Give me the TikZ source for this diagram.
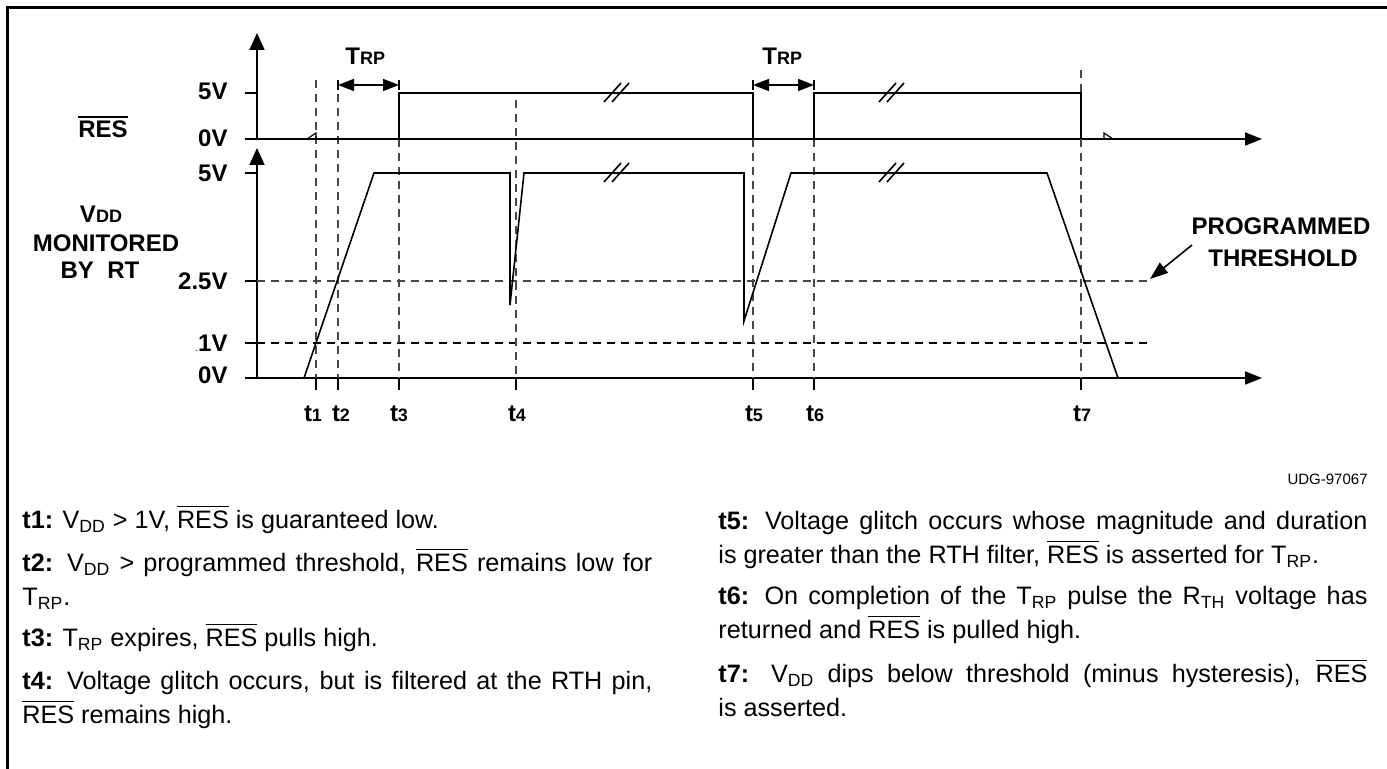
\documentclass[tikz,border=0pt]{standalone}
\usepackage{fontspec}
\setmainfont{Liberation Sans}
\usetikzlibrary{arrows.meta}
\hyphenpenalty=10000
\exhyphenpenalty=10000
\tolerance=9999
\emergencystretch=20pt
\newcommand{\ovb}[1]{\leavevmode\vbox{\hrule height 0.9pt\kern1.5pt\hbox{#1}}}
\newcommand{\ovt}[1]{\leavevmode\vbox{\hrule height 0.6pt\kern1.7pt\hbox{#1}}}
\newcommand{\sbs}[1]{\textsubscript{#1}}
\newcommand{\fst}{\leavevmode\vrule width 0pt height 12pt depth 0pt\relax}
\begin{document}
\begin{tikzpicture}[x=0.5pt,y=-0.5pt,
  wave/.style={line width=0.8pt, line join=miter},
  axisv/.style={line width=0.9pt, -{Triangle[length=8.5pt,width=7.5pt]}},
  axish/.style={line width=0.9pt, -{Triangle[length=8.5pt,width=6.5pt]}},
  tick/.style={line width=0.9pt},
  dsh/.style={line width=0.7pt, black!72, dash pattern=on 4pt off 3pt},
  dshk/.style={line width=0.7pt, black, dash pattern=on 4pt off 3pt},
  dim/.style={line width=0.8pt, {Triangle[length=8pt,width=6pt]}-{Triangle[length=8pt,width=6pt]}},
  lbl/.style={font=\fontsize{12}{14}\selectfont\bfseries, inner sep=0pt},
  para/.style={anchor=north west, inner sep=0pt, align=justify,
    font=\fontsize{12.6}{17}\selectfont},
]
\useasboundingbox (0,0) rectangle (1387,769);
% frame
\draw[line width=1.5pt] (7,769) -- (7,8) -- (1387,8);

% ---------- RES axis ----------
\draw[axisv] (257,139) -- (257,33);
\draw[axish] (245,139) -- (1262,139);
\draw[tick] (245,93) -- (257,93);
\node[lbl, anchor=base east] (r5) at (228,100) {5V};
\node[lbl, anchor=base east] (r0) at (228,147) {0V};
\node[lbl, anchor=base] (res) at (103,138) {\ovb{RES}};

% ---------- VDD axis ----------
\draw[axisv] (257,378) -- (257,148);
\draw[axish] (245,378) -- (1262,378);
\draw[tick] (245,173) -- (257,173);
\draw[tick] (245,281) -- (257,281);
\draw[tick] (245,343) -- (257,343);
\node[lbl, anchor=base east] (v5) at (228,182) {5V};
\node[lbl, anchor=base east] (v25) at (228,290) {2.5V};
\node[lbl, anchor=base east] (v1) at (228,352) {{\fontsize{5}{5}\selectfont\mdseries .}1V};
\node[lbl, anchor=base east] (v0) at (228,384) {0V};
\node[lbl, anchor=base] (vdd) at (101,223) {V{\fontsize{9}{10}\selectfont DD}};
\node[lbl, anchor=base] (mon) at (106,252) {MONITORED};
\node[lbl, anchor=base] (byrt) at (100,279) {BY\ \ RT};

% threshold lines
\draw[dsh] (257,281) -- (1150,281);
\draw[dshk] (257,343) -- (1150,343);
\coordinate (thr) at (1150,279);
\node[lbl, anchor=base] (prog) at (1281,235) {PROGRAMMED};
\node[lbl, anchor=base] (thrs) at (1283,267) {THRESHOLD};
\coordinate (thrA) at (1192,245);
\draw[line width=0.8pt, -{Triangle[length=9pt,width=6.5pt]}] (thrA) -- (thr);

% ---------- vertical time markers ----------
\draw[dsh] (316,80) -- (316,378);
\draw[dsh] (338,80) -- (338,378);
\draw[dsh] (399,139) -- (399,378);
\draw[dsh] (516,100) -- (516,378);
\draw[dsh] (753,139) -- (753,378);
\draw[dsh] (814,139) -- (814,378);
\draw[dsh] (1081,70) -- (1081,93);
\draw[dsh] (1081,139) -- (1081,378);
\foreach \x in {316,338,399,516,753,814,1081} \draw[tick] (\x,378) -- (\x,390);

% TRP dimension arrows
\draw[line width=0.8pt] (338,80) -- (338,90) (399,80) -- (399,90);
\draw[line width=0.8pt] (753,80) -- (753,90) (814,80) -- (814,90);
\coordinate (d1a) at (338,85); \coordinate (d1b) at (399,85);
\coordinate (d2a) at (753,85); \coordinate (d2b) at (814,85);
\draw[dim] (d1a) -- (d1b);
\draw[dim] (d2a) -- (d2b);
\node[lbl, anchor=base west] (trp1) at (345,65) {T{\fontsize{9}{10}\selectfont RP}};
\node[lbl, anchor=base west] (trp2) at (762,65) {T{\fontsize{9}{10}\selectfont RP}};

% ---------- RES waveform ----------
\draw[wave] (257,139) -- (399,139) -- (399,93) -- (753,93) -- (753,139)
  -- (814,139) -- (814,93) -- (1081,93) -- (1081,139);
\draw[line width=0.6pt] (307,139) -- (316,133) -- (316,139);
\draw[line width=0.6pt] (1104,139) -- (1104,133) -- (1113,139);

% ---------- VDD waveform ----------
\draw[wave] (304,378) -- (374,173) -- (510,173) -- (510,305) -- (524,173)
  -- (744,173) -- (744,321) -- (791,173) -- (1047,173) -- (1118,378);

% break marks
\foreach \bx/\by in {617/93, 617/173, 892/93, 892/173}{
  \draw[line width=0.8pt] (\bx-13,\by+9) -- (\bx+4,\by-10);
  \draw[line width=0.8pt] (\bx-5,\by+9) -- (\bx+12,\by-10);
}

% t labels
\foreach \x/\n in {313/1,341/2,399/3,517/4,754/5,815/6,1082/7}
  \node[lbl, anchor=base] (tl\n) at (\x,422) {t{\fontsize{9}{10}\selectfont\n}};

% ---------- notes ----------
\node[anchor=base east, inner sep=0pt, font=\fontsize{7.5}{9}\selectfont] (udg) at (1368,485) {UDG-97067};

\node[para, text width=315pt] (n1) at (22,504) {\fst\textbf{t1:} V\sbs{DD} > 1V, \ovt{RES} is guaranteed low.};
\node[para, text width=315pt] (n2) at (22,547) {\fst\textbf{t2:} V\sbs{DD} > programmed threshold, \ovt{RES} remains low for\linebreak T\sbs{RP}.};
\node[para, text width=315pt] (n3) at (22,622) {\fst\textbf{t3:} T\sbs{RP} expires, \ovt{RES} pulls high.};
\node[para, text width=315pt] (n4) at (22,665) {\fst\textbf{t4:} Voltage glitch occurs, but is filtered at the RTH pin,\linebreak \ovt{RES} remains high.};

\node[para, text width=324.5pt] (n5) at (718,505) {\fst\textbf{t5:} Voltage glitch occurs whose magnitude and duration\linebreak is greater than the RTH filter, \ovt{RES} is asserted for T\sbs{RP}.};
\node[para, text width=324.5pt] (n6) at (718,580) {\fst\textbf{t6:} On completion of the T\sbs{RP} pulse the R\sbs{TH} voltage has\linebreak returned and \ovt{RES} is pulled high.};
\node[para, text width=324.5pt] (n7) at (718,658) {\fst\textbf{t7:} V\sbs{DD} dips below threshold (minus hysteresis), \ovt{RES}\linebreak is asserted.};
\end{tikzpicture}
\end{document}
